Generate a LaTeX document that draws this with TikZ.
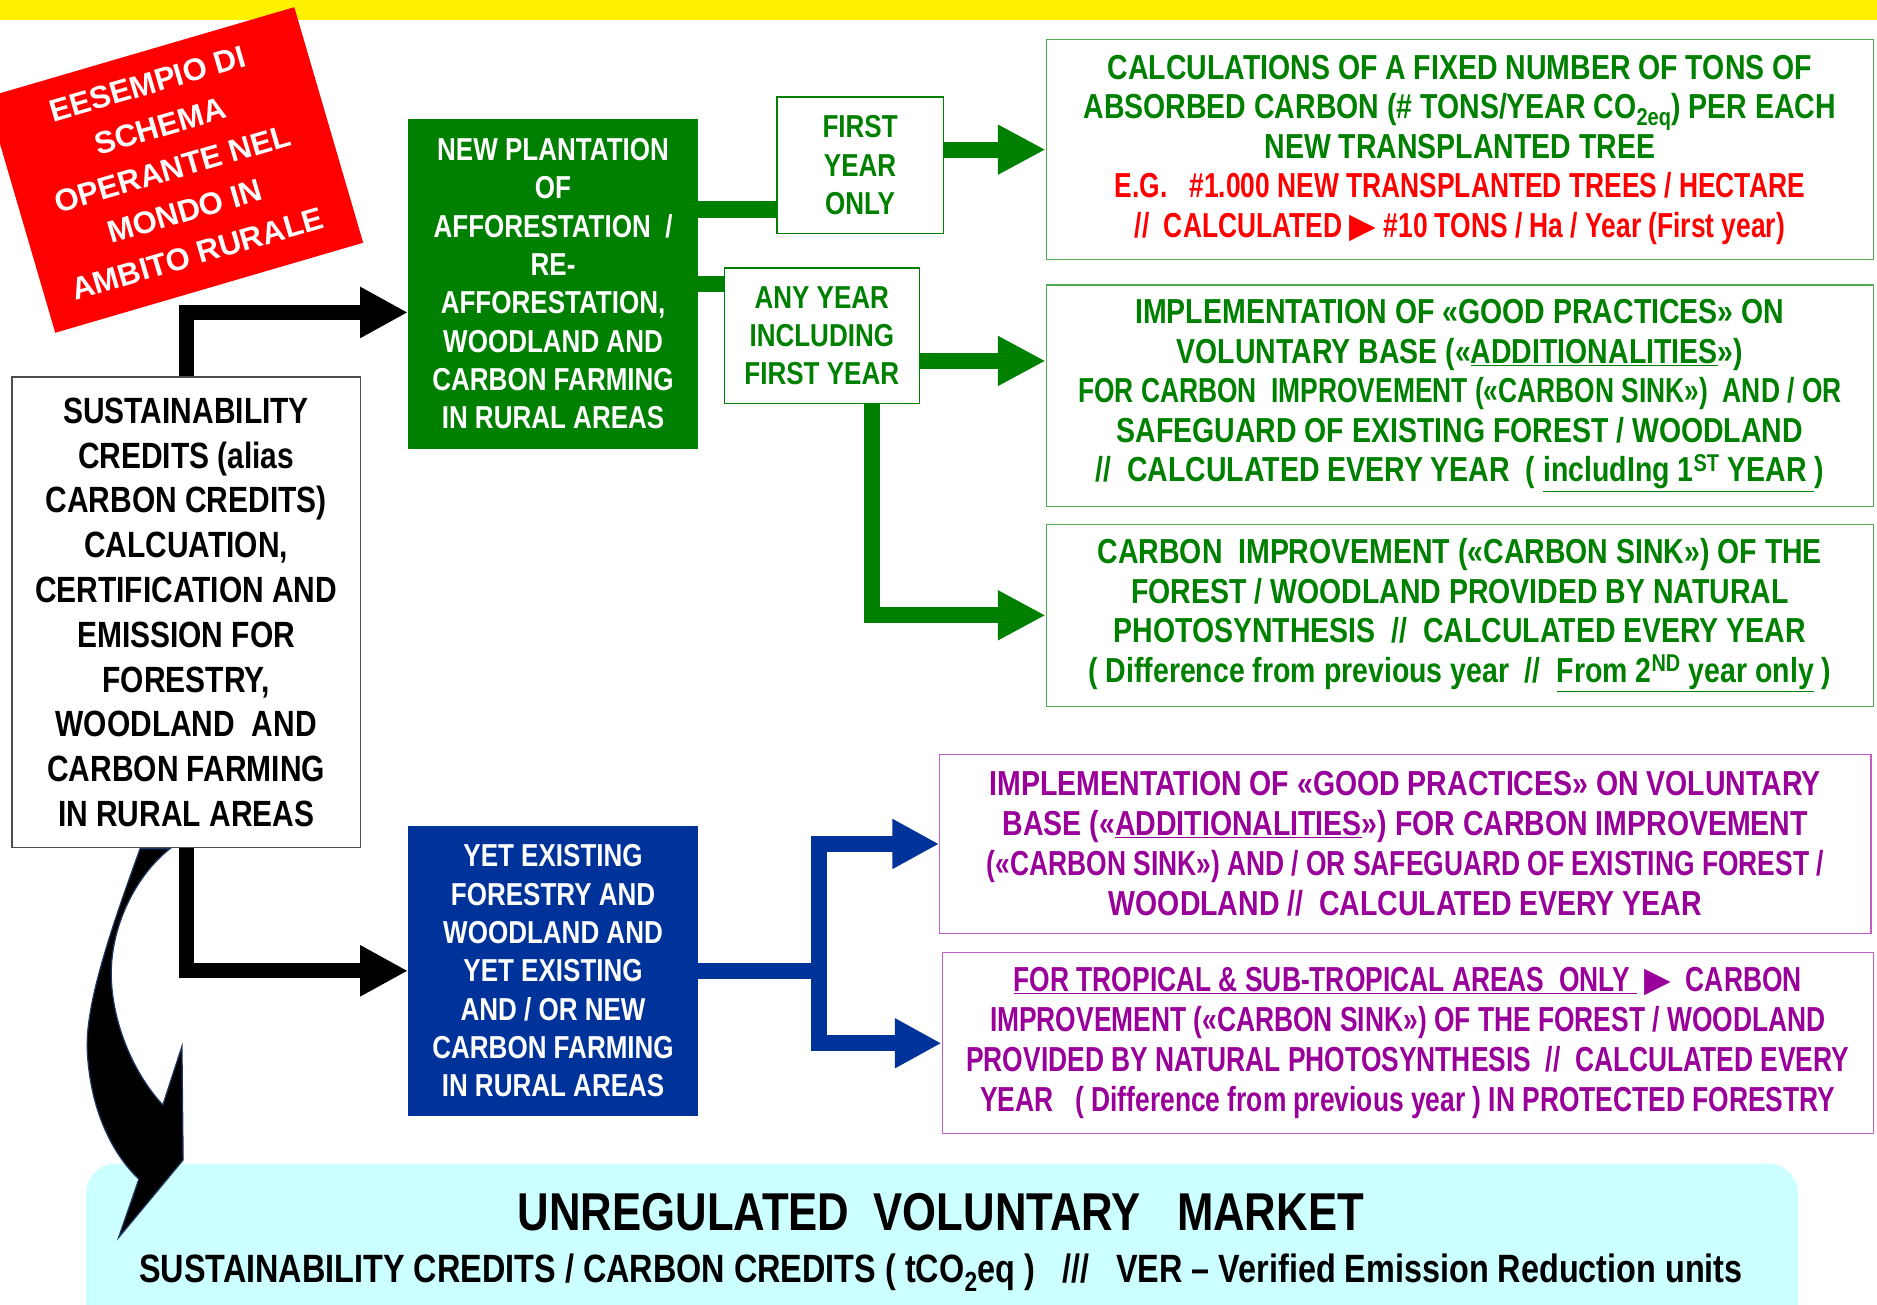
\documentclass[tikz,border=0pt]{standalone}
\usepackage{fontspec}
\usepackage{tikz}
\usetikzlibrary{arrows.meta}
\newfontfamily\narrowbf[FakeStretch=0.82]{Liberation Sans Bold}
\newfontfamily\narrowerbf[FakeStretch=0.76]{Liberation Sans Bold}
\newfontfamily\plainbf{Liberation Sans Bold}
\newfontfamily\symbfont{DejaVu Sans}
\definecolor{leafgreen}{RGB}{0,128,0}
\definecolor{framegreen}{RGB}{80,170,80}
\definecolor{deepblue}{RGB}{0,51,153}
\definecolor{plum}{RGB}{153,0,153}
\definecolor{frameplum}{RGB}{196,96,196}
\definecolor{pale}{RGB}{204,255,255}
\definecolor{navyline}{RGB}{31,56,100}
\newcommand{\pointer}{{\symbfont ▶}}

\begin{document}
\begin{tikzpicture}[x=1pt, y=-1pt,
		every node/.style={align=center, inner sep=0pt},
		greenbox/.style={draw=framegreen, line width=1pt, text=leafgreen, fill=white, font=\narrowbf\fontsize{29}{33}\selectfont},
		plumbox/.style={draw=frameplum, line width=1pt, text=plum, fill=white, font=\narrowbf\fontsize{29}{33.5}\selectfont},
		yearbox/.style={draw=leafgreen, line width=1.2pt, text=leafgreen, fill=white, font=\narrowbf\fontsize{26.5}{32}\selectfont},
		solidbox/.style={text=white, font=\narrowbf\fontsize{26.5}{32}\selectfont},
		blackarrow/.style={line width=12.5pt, -{Triangle[length=40pt, width=40pt]}},
		greenline/.style={leafgreen, line width=13.5pt},
		greenarrow/.style={greenline, -{Triangle[length=40pt, width=39pt]}},
		blueline/.style={deepblue, line width=13.5pt},
		bluearrow/.style={blueline, line cap=rect, -{Triangle[length=39pt, width=39pt]}}]
		\useasboundingbox (0, 0) rectangle (1568, 1090);
		\fill[yellow] (0, 0) rectangle (1568, 17);
		\node[fill=red, rotate=16.3, minimum width=268pt, minimum height=205pt] (esempio) at (146, 142) {};
		\node[text=white, rotate=16.3, font=\plainbf\fontsize{26}{37}\selectfont] (esempiotext) at (144, 141) {EESEMPIO DI\\SCHEMA\\OPERANTE NEL\\MONDO IN\\AMBITO RURALE};
		\fill[pale, rounded corners=25pt] (72, 972) rectangle (1502, 1120);
		\node[font=\narrowbf\fontsize{44.5}{50}\selectfont] (mkttitle) at (786, 1013) {UNREGULATED~~VOLUNTARY~~~MARKET};
		\node[font=\narrowbf\fontsize{33}{38}\selectfont] (mktunits) at (786, 1063) {SUSTAINABILITY CREDITS / CARBON CREDITS ( tCO\textsubscript{2}eq )~~~///~~~VER – Verified Emission Reduction units};
		\filldraw[fill=black, draw=navyline, line width=1pt] (117, 709) .. controls (95, 770) and (70, 840) .. (73, 880) .. controls (76, 930) and (95, 965) .. (116, 985) -- (99, 1034) -- (153, 969) -- (152, 874) -- (136, 923) .. controls (110, 895) and (92, 850) .. (93, 810) .. controls (94, 770) and (115, 730) .. (142, 709) -- cycle;
		\node[draw=black!70, line width=1pt, fill=white, minimum width=291pt, minimum height=393pt, font=\narrowbf\fontsize{30.5}{37.4}\selectfont] (cred) at (155.5, 511.5) {SUSTAINABILITY\\CREDITS (alias\\CARBON CREDITS)\\CALCUATION,\\CERTIFICATION AND\\EMISSION FOR\\FORESTRY,\\WOODLAND~~AND\\CARBON FARMING\\IN RURAL AREAS};
		\node[solidbox, fill=leafgreen, minimum width=242pt, minimum height=276pt] (newplant) at (462, 237) {NEW PLANTATION\\OF\\AFFORESTATION~~/\\RE-\\AFFORESTATION,\\WOODLAND AND\\CARBON FARMING\\IN RURAL AREAS};
		\node[solidbox, fill=deepblue, minimum width=242pt, minimum height=242pt] (yetexist) at (462, 811) {YET EXISTING\\FORESTRY AND\\WOODLAND AND\\YET EXISTING\\AND / OR NEW\\CARBON FARMING\\IN RURAL AREAS};
		\node[yearbox, minimum width=139pt, minimum height=114pt] (firstyr) at (718.5, 138) {FIRST\\YEAR\\ONLY};
		\node[yearbox, minimum width=163pt, minimum height=113pt] (anyyear) at (686.5, 280.5) {ANY YEAR\\INCLUDING\\FIRST YEAR};
		\node[greenbox, minimum width=691pt, minimum height=184pt] (box1) at (1219.5, 125) {CALCULATIONS OF A FIXED NUMBER OF TONS OF\\ABSORBED CARBON (\# TONS/YEAR CO\textsubscript{2eq}) PER EACH\\NEW TRANSPLANTED TREE\\\textcolor{red}{\narrowerbf E.G.~~~\#1.000 NEW TRANSPLANTED TREES / HECTARE}\\\textcolor{red}{\narrowerbf //~~CALCULATED \pointer{} \#10 TONS / Ha / Year (First year)}};
		\node[greenbox, minimum width=691pt, minimum height=185pt] (box2) at (1219.5, 330.5) {IMPLEMENTATION OF «GOOD PRACTICES» ON\\VOLUNTARY BASE («\underline{ADDITIONALITIES}»)\\{\narrowerbf FOR CARBON~~IMPROVEMENT («CARBON SINK»)~~AND / OR}\\SAFEGUARD OF EXISTING FOREST / WOODLAND\\//~~CALCULATED EVERY YEAR~~( \underline{includIng 1\textsuperscript{ST}~YEAR })};
		\node[greenbox, minimum width=691pt, minimum height=152pt] (box3) at (1219.5, 514) {CARBON~~IMPROVEMENT («CARBON SINK») OF THE\\FOREST / WOODLAND PROVIDED BY NATURAL\\PHOTOSYNTHESIS~~//~~CALCULATED EVERY YEAR\\( Difference from previous year~~//~~\underline{From 2\textsuperscript{ND} year only} )};
		\node[plumbox, minimum width=778pt, minimum height=150pt] (box4) at (1174, 705) {IMPLEMENTATION OF «GOOD PRACTICES» ON VOLUNTARY\\BASE («\underline{ADDITIONALITIES}»)~FOR CARBON~IMPROVEMENT\\{\narrowerbf («CARBON SINK») AND / OR SAFEGUARD OF EXISTING FOREST /}\\WOODLAND~//~~CALCULATED EVERY YEAR};
		\node[plumbox, minimum width=778pt, minimum height=151pt, font=\narrowerbf\fontsize{29}{33.5}\selectfont] (box5) at (1176, 871.5) {\underline{FOR TROPICAL \& SUB-TROPICAL AREAS~~ONLY~}~\pointer~~CARBON\\IMPROVEMENT («CARBON SINK») OF THE FOREST / WOODLAND\\PROVIDED BY NATURAL PHOTOSYNTHESIS~~//~~CALCULATED EVERY\\YEAR~~~( Difference from previous year ) IN PROTECTED FORESTRY};
		\draw[blackarrow] (cred.north) |- ([yshift=-24pt]newplant.west);
		\draw[blackarrow] (cred.south) |- (yetexist.west);
		\draw[greenline] ([yshift=-37pt]firstyr.west) -- ([yshift=-37pt]firstyr.west -| newplant.east);
		\draw[greenline] (newplant.east) -- (newplant.east -| anyyear.west);
		\draw[greenarrow] (firstyr.east |- box1.west) -- (box1.west);
		\draw[greenarrow] ([yshift=-21pt]anyyear.east) -- ([yshift=-21pt]anyyear.east -| box2.west);
		\draw[greenarrow] ([xshift=42pt]anyyear.south) |- (box3.west);
		\coordinate (split) at (684, 811);
		\draw[blueline] (yetexist.east) -- (split);
		\foreach \b in {box4, box5}
			\draw[bluearrow] (split) |- (\b.west);
	\end{tikzpicture}
\end{document}
